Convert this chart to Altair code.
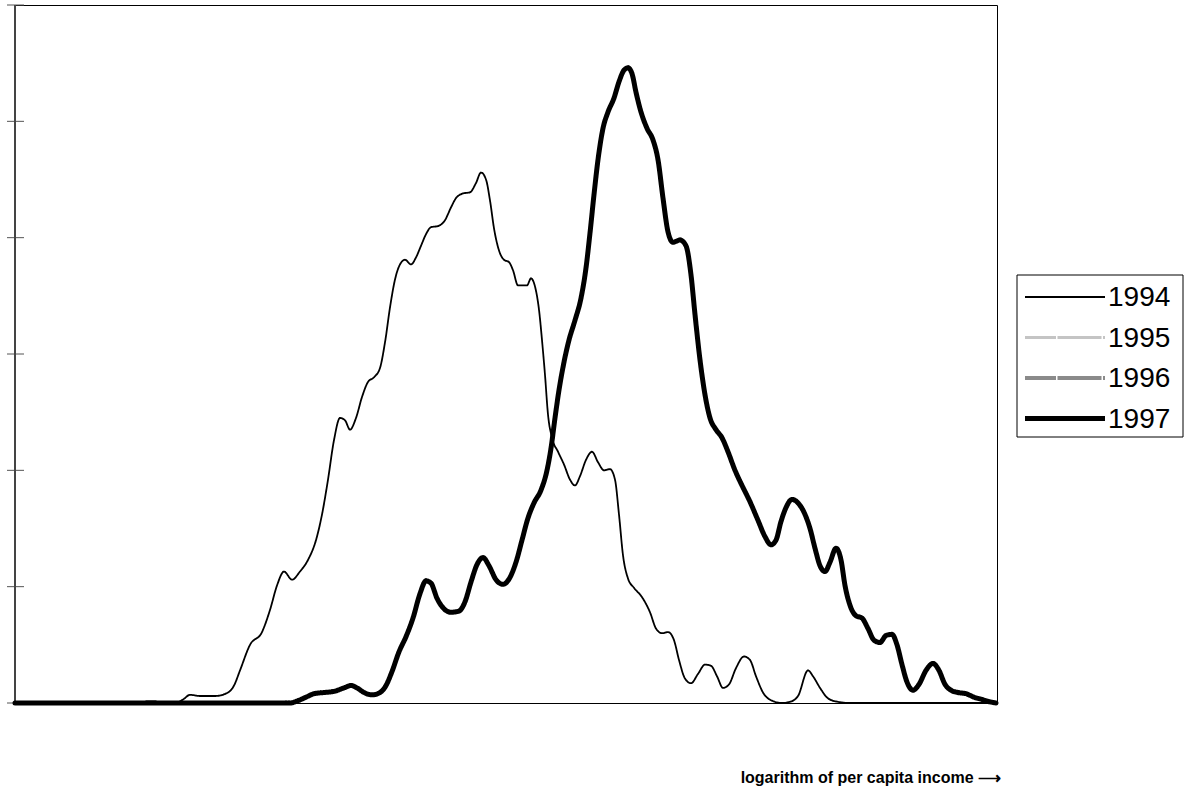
import altair as alt
import pandas as pd

# Kernel density estimates of log per capita income, by year
x_1994 = [0.00, 1.60, 1.68, 1.75, 1.85, 2.00, 2.13, 2.19, 2.25, 2.35, 2.47, 2.55,
          2.62, 2.69, 2.77, 2.85, 2.93, 3.01, 3.07, 3.13, 3.19, 3.25, 3.30, 3.35,
          3.41, 3.47, 3.53, 3.59, 3.65, 3.70, 3.75, 3.80, 3.85, 3.90, 3.96, 4.01,
          4.06, 4.11, 4.16, 4.23, 4.30, 4.36, 4.41, 4.48, 4.55, 4.61, 4.66, 4.71,
          4.75, 4.79, 4.84, 4.89, 4.94, 4.98, 5.03, 5.08, 5.12, 5.16, 5.20, 5.24,
          5.27, 5.30, 5.33, 5.37, 5.43, 5.49, 5.55, 5.60, 5.65, 5.71, 5.77, 5.83,
          5.89, 5.95, 6.00, 6.04, 6.08, 6.13, 6.19, 6.27, 6.35, 6.41, 6.47, 6.53,
          6.59, 6.64, 6.70, 6.76, 6.83, 6.90, 6.96, 7.02, 7.08, 7.14, 7.21, 7.29,
          7.35, 7.41, 7.48, 7.57, 7.67, 7.75, 7.83, 7.93, 7.98, 8.05, 8.13, 8.23,
          8.35, 9.82]
d_1994 = [0.00, 0.00, 0.03, 0.07, 0.06, 0.06, 0.09, 0.15, 0.28, 0.50, 0.61, 0.80,
          1.01, 1.13, 1.06, 1.13, 1.23, 1.40, 1.62, 1.92, 2.26, 2.45, 2.43, 2.35,
          2.45, 2.63, 2.76, 2.80, 2.88, 3.10, 3.40, 3.64, 3.77, 3.81, 3.77, 3.83,
          3.93, 4.03, 4.09, 4.10, 4.15, 4.26, 4.34, 4.38, 4.39, 4.47, 4.56, 4.50,
          4.32, 4.08, 3.89, 3.81, 3.79, 3.72, 3.59, 3.59, 3.59, 3.65, 3.58, 3.38,
          3.12, 2.82, 2.48, 2.28, 2.16, 2.05, 1.92, 1.87, 1.95, 2.09, 2.16, 2.07,
          2.00, 2.01, 1.92, 1.62, 1.27, 1.07, 0.99, 0.91, 0.78, 0.64, 0.60, 0.61,
          0.54, 0.37, 0.21, 0.17, 0.25, 0.33, 0.32, 0.23, 0.13, 0.16, 0.30, 0.40,
          0.37, 0.23, 0.09, 0.02, 0.00, 0.01, 0.06, 0.28, 0.23, 0.13, 0.04, 0.01,
          0.00, 0.00]

x_1997 = [0.00, 2.75, 2.83, 2.91, 2.99, 3.09, 3.19, 3.29, 3.36, 3.42, 3.49, 3.57,
          3.65, 3.71, 3.77, 3.84, 3.91, 3.98, 4.05, 4.11, 4.16, 4.22, 4.29, 4.36,
          4.44, 4.50, 4.56, 4.62, 4.68, 4.74, 4.81, 4.88, 4.95, 5.01, 5.07, 5.13,
          5.19, 5.26, 5.32, 5.36, 5.40, 5.44, 5.49, 5.54, 5.60, 5.66, 5.71, 5.75,
          5.79, 5.83, 5.88, 5.93, 5.99, 6.04, 6.09, 6.13, 6.17, 6.21, 6.26, 6.32,
          6.38, 6.43, 6.48, 6.53, 6.58, 6.65, 6.71, 6.76, 6.80, 6.85, 6.90, 6.95,
          7.01, 7.07, 7.13, 7.20, 7.27, 7.35, 7.43, 7.50, 7.56, 7.61, 7.66, 7.71,
          7.77, 7.83, 7.89, 7.95, 8.00, 8.05, 8.10, 8.15, 8.21, 8.26, 8.30, 8.35,
          8.41, 8.47, 8.53, 8.59, 8.65, 8.71, 8.77, 8.82, 8.87, 8.92, 8.98, 9.04,
          9.11, 9.18, 9.24, 9.30, 9.36, 9.43, 9.51, 9.59, 9.67, 9.75, 9.81]
d_1997 = [0.00, 0.00, 0.02, 0.05, 0.08, 0.09, 0.10, 0.13, 0.15, 0.13, 0.09, 0.07,
          0.09, 0.15, 0.27, 0.44, 0.57, 0.73, 0.94, 1.05, 1.03, 0.90, 0.81, 0.78,
          0.79, 0.87, 1.04, 1.19, 1.25, 1.18, 1.06, 1.02, 1.08, 1.21, 1.40, 1.59,
          1.72, 1.83, 2.00, 2.19, 2.45, 2.69, 2.93, 3.12, 3.29, 3.48, 3.74, 4.04,
          4.37, 4.67, 4.94, 5.08, 5.20, 5.34, 5.44, 5.46, 5.41, 5.25, 5.08, 4.94,
          4.84, 4.67, 4.34, 4.05, 3.96, 3.98, 3.93, 3.68, 3.34, 2.95, 2.65, 2.45,
          2.35, 2.28, 2.16, 2.00, 1.87, 1.73, 1.57, 1.43, 1.36, 1.40, 1.56, 1.68,
          1.75, 1.72, 1.64, 1.50, 1.33, 1.18, 1.13, 1.21, 1.33, 1.23, 1.01, 0.84,
          0.75, 0.73, 0.64, 0.54, 0.52, 0.58, 0.59, 0.50, 0.33, 0.18, 0.11, 0.16,
          0.28, 0.34, 0.28, 0.16, 0.11, 0.09, 0.08, 0.05, 0.03, 0.01, 0.00]

years = ["1994", "1995", "1996", "1997"]
y_ticks = [0, 1, 2, 3, 4, 5, 6]

# Line styles per year
year_colors = ["#000000", "#c4c4c4", "#8a8a8a", "#000000"]
year_widths = [1.8, 5, 6, 6.5]
year_dashes = [[1, 0], [31, 1.5, 44, 1.5], [31, 1.5, 44, 1.5], [1, 0]]

X_MAX = 9.82
Y_MAX = 6

df = pd.concat([
    pd.DataFrame({"x": x_1994, "density": d_1994, "year": "1994", "order": 0}),
    pd.DataFrame({"x": x_1997, "density": d_1997, "year": "1997", "order": 1}),
])

x_scale = alt.Scale(domain=[0, X_MAX], nice=False, zero=False)
y_scale = alt.Scale(domain=[0, Y_MAX], nice=False)
color_scale = alt.Scale(domain=years, range=year_colors)
width_scale = alt.Scale(domain=years, range=year_widths)
dash_scale = alt.Scale(domain=years, range=year_dashes)

lines = alt.Chart(df).mark_line(interpolate="monotone", strokeCap="round", clip=False).encode(
    x=alt.X("x:Q", scale=x_scale, axis=None),
    y=alt.Y("density:Q", scale=y_scale, axis=None),
    detail="year:N",
    order="order:Q",
    color=alt.Color("year:N", scale=color_scale, legend=None),
    strokeWidth=alt.StrokeWidth("year:N", scale=width_scale, legend=None),
    strokeDash=alt.StrokeDash("year:N", scale=dash_scale, legend=None),
)

# Tick marks crossing the left edge of the frame
ticks = alt.Chart(pd.DataFrame({"t": y_ticks})).mark_rule(color="#555555", strokeWidth=1).encode(
    y=alt.Y("t:Q", scale=y_scale, axis=None),
    x=alt.value(-8),
    x2=alt.value(9),
)

left_edge = alt.Chart(pd.DataFrame({"t": [0]})).mark_rule(color="#444444", strokeWidth=2).encode(
    x=alt.value(0),
    y=alt.value(0),
    y2=alt.value(698),
)

x_title = alt.Chart(pd.DataFrame({"label": ["logarithm of per capita income \u27f6"]})).mark_text(
    align="right", baseline="middle", font="Liberation Sans", fontWeight="bold",
    fontSize=16, color="#000000",
).encode(
    text="label:N",
    x=alt.value(986),
    y=alt.value(773),
)

# Boxed legend on the right, one row per year
legend_rows = pd.DataFrame({"year": years, "idx": list(range(len(years)))})

legend_box = alt.Chart(pd.DataFrame({"k": [0]})).mark_rect(
    fill="white", stroke="#000000", strokeWidth=1
).encode(
    x=alt.value(1002), x2=alt.value(1168),
    y=alt.value(270), y2=alt.value(432),
)

legend_base = alt.Chart(legend_rows).transform_calculate(
    row_y="292 + datum.idx * 40.5"
)

legend_lines = legend_base.mark_rule(strokeCap="butt").encode(
    x=alt.value(1010), x2=alt.value(1090),
    y=alt.Y("row_y:Q", scale=None, axis=None),
    color=alt.Color("year:N", scale=color_scale, legend=None),
    strokeWidth=alt.StrokeWidth("year:N", scale=width_scale, legend=None),
    strokeDash=alt.StrokeDash("year:N", scale=dash_scale, legend=None),
)

legend_labels = legend_base.mark_text(
    align="left", baseline="middle", font="Liberation Sans", fontSize=28, color="#000000", dy=1
).encode(
    x=alt.value(1093),
    y=alt.Y("row_y:Q", scale=None, axis=None),
    text="year:N",
)

chart = alt.layer(
    ticks, left_edge, lines, x_title, legend_box, legend_lines, legend_labels
).properties(
    width=982,
    height=698,
    autosize=alt.AutoSizeParams(type="none"),
    padding={"left": 15, "top": 5, "right": 193, "bottom": 97},
    background="white",
).configure_view(
    stroke="#000000", strokeWidth=1
)

chart.save("out.html", embed_options={"renderer": "svg", "actions": False})
